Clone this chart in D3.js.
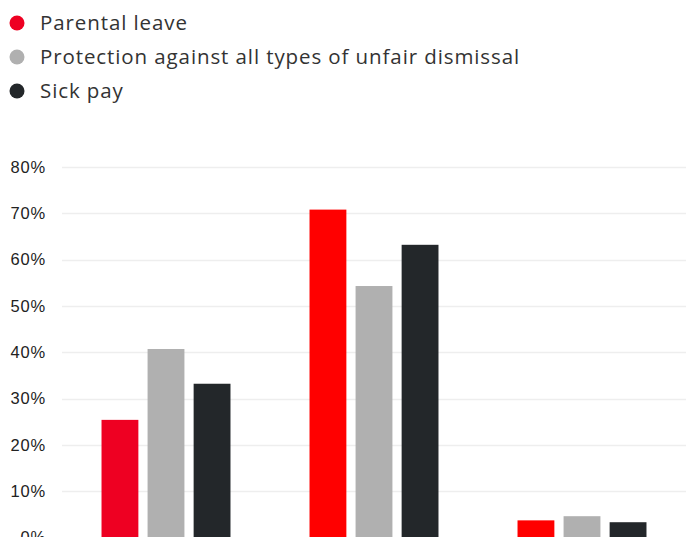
<!DOCTYPE html>
<html lang="en">
<head>
  <meta charset="UTF-8">
  <title>Employment rights by type</title>
  <script src="https://d3js.org/d3.v7.min.js"></script>
  <style>
    body {
      margin: 0;
      overflow: hidden;
      background: #fff;
    }
    svg {
      display: block;
      font-family: "Open Sans", Lato, sans-serif;
    }
    .legend text {
      font-size: 20.5px;
      letter-spacing: 0.9px;
      fill: #333;
    }
    .y-axis text {
      font-size: 16.5px;
      letter-spacing: 0.8px;
      fill: #222;
    }
    .grid line {
      stroke: #eeeeee;
      stroke-width: 1.5;
    }
  </style>
</head>
<body>
  <svg width="686" height="580"></svg>

  <script>
    // data
    const categories = ["Group A", "Group B", "Group C"];
    const seriesNames = ["Parental leave", "Protection against all types of unfair dismissal", "Sick pay"];
    const parentalLeave = [25.4, 70.8, 3.7];
    const unfairDismissal = [40.7, 54.3, 4.6];
    const sickPay = [33.2, 63.2, 3.3];
    const yTicks = [0, 10, 20, 30, 40, 50, 60, 70, 80];

    const seriesValues = [parentalLeave, unfairDismissal, sickPay];
    const colors = ["#ff0000", "#b0b0b0", "#23272a"];
    const legendColors = ["#ee0022", "#b0b0b0", "#23272a"];

    const svg = d3.select("svg");
    const margin = { top: 167, left: 62, right: 0 };
    const width = 686;
    const zeroY = 537.5;

    const y = d3.scaleLinear()
      .domain([0, 80])
      .range([zeroY, margin.top]);

    const x0 = d3.scaleBand()
      .domain(categories)
      .range([margin.left, width - margin.right])
      .paddingInner(0.38)
      .paddingOuter(0.19);

    const x1 = d3.scaleBand()
      .domain(seriesNames)
      .range([0, x0.bandwidth()])
      .paddingInner(0.2);

    // gridlines
    svg.append("g")
      .attr("class", "grid")
      .selectAll("line")
      .data(yTicks)
      .join("line")
      .attr("x1", margin.left)
      .attr("x2", width)
      .attr("y1", d => Math.round(y(d)) + 0.5)
      .attr("y2", d => Math.round(y(d)) + 0.5);

    // y axis labels
    svg.append("g")
      .attr("class", "y-axis")
      .attr("transform", `translate(${margin.left - 16},0)`)
      .call(d3.axisLeft(y).tickValues(yTicks).tickFormat(d => d + "%").tickSize(0).tickPadding(0))
      .call(g => g.select(".domain").remove())
      .call(g => g.selectAll("text").attr("font-family", null).attr("font-size", null).attr("fill", null));

    // bars
    const rows = categories.map((c, i) => ({
      category: c,
      values: seriesNames.map((s, j) => ({ series: s, idx: j, value: seriesValues[j][i], group: i }))
    }));

    svg.append("g")
      .selectAll("g")
      .data(rows)
      .join("g")
      .attr("transform", d => `translate(${x0(d.category)},0)`)
      .selectAll("rect")
      .data(d => d.values)
      .join("rect")
      .attr("x", d => x1(d.series))
      .attr("y", d => y(d.value))
      .attr("width", x1.bandwidth())
      .attr("height", d => zeroY - y(d.value) + 40)
      .attr("fill", d => (d.idx === 0 && d.group === 0) ? legendColors[0] : colors[d.idx]);

    // legend
    const legend = svg.append("g")
      .attr("class", "legend")
      .selectAll("g")
      .data(seriesNames)
      .join("g")
      .attr("transform", (d, i) => `translate(0,${23 + i * 34})`);

    legend.append("circle")
      .attr("cx", 17)
      .attr("cy", 0)
      .attr("r", 7.5)
      .attr("fill", (d, i) => legendColors[i]);

    legend.append("text")
      .attr("x", 40)
      .attr("y", 0)
      .attr("dy", "0.35em")
      .text(d => d);
  </script>
</body>
</html>
